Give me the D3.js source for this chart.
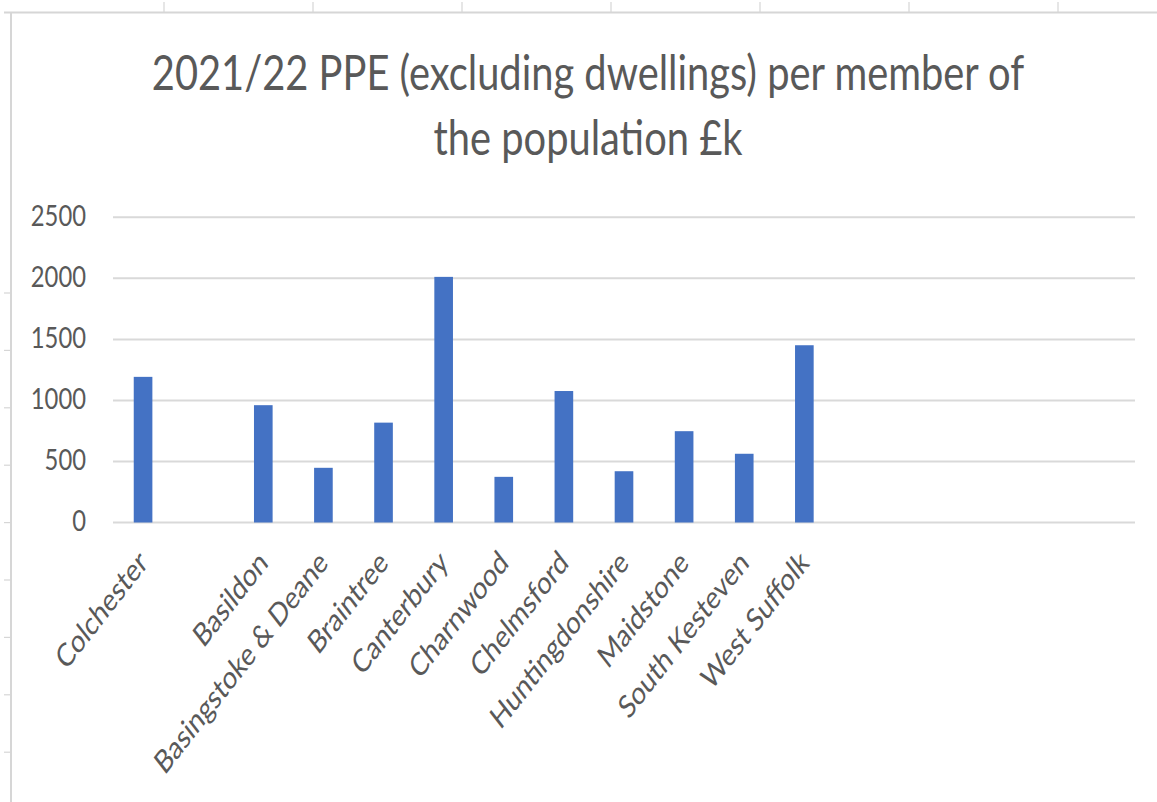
<!DOCTYPE html>
<html>
<head>
<meta charset="utf-8">
<script src="https://cdn.jsdelivr.net/npm/d3@7"></script>
<style>
  html, body { margin: 0; padding: 0; background: #fff; }
  svg { display: block; }
  text { font-family: Lato, "Open Sans", "Noto Sans", sans-serif; fill: #595959; }
</style>
</head>
<body>
<svg id="chart" width="1157" height="802"></svg>
<script>
// Councils in chart order (blank slots are empty categories in the series)
const categories = [
  "Colchester", "", "Basildon", "Basingstoke & Deane", "Braintree", "Canterbury",
  "Charnwood", "Chelmsford", "Huntingdonshire", "Maidstone", "South Kesteven",
  "West Suffolk", "", "", "", "", ""
];
// PPE (excluding dwellings) per member of the population, £k
const values = [
  1193, null, 961, 448, 818, 2012,
  374, 1077, 420, 748, 563,
  1452, null, null, null, null, null
];
const yTicks = [0, 500, 1000, 1500, 2000, 2500];
const titleLines = ["2021/22 PPE (excluding dwellings) per member of", "the population £k"];

const W = 1157, H = 802;
const svg = d3.select("#chart");

// Worksheet cell borders behind the chart
const sheet = svg.append("g").attr("stroke", "#d6d6d6").attr("stroke-width", 2);
sheet.append("line").attr("x1", 4).attr("x2", W).attr("y1", 12.5).attr("y2", 12.5);
sheet.append("line").attr("x1", 11).attr("x2", 11).attr("y1", 12).attr("y2", H);
sheet.selectAll(".ct").data(d3.range(164, W, 149)).join("line")
  .attr("stroke-width", 1.2)
  .attr("x1", d => d).attr("x2", d => d).attr("y1", 2).attr("y2", 12);
sheet.selectAll(".rt").data(d3.range(293, H - 30, 57.4)).join("line")
  .attr("stroke-width", 1.2)
  .attr("x1", 4).attr("x2", 11).attr("y1", d => d).attr("y2", d => d);

// Plot area
const plot = { left: 113, right: 1135, top: 217.3, bottom: 522.5 };

const x = d3.scaleBand()
  .domain(d3.range(categories.length))
  .range([plot.left, plot.right])
  .paddingInner(0.69)
  .paddingOuter(0.345);

const y = d3.scaleLinear()
  .domain([0, 2500])
  .range([plot.bottom, plot.top]);

// Horizontal gridlines
svg.append("g")
  .selectAll("line")
  .data(yTicks)
  .join("line")
  .attr("x1", plot.left).attr("x2", plot.right)
  .attr("y1", d => y(d)).attr("y2", d => y(d))
  .attr("stroke", "#d9d9d9")
  .attr("stroke-width", 2);

// Bars
svg.append("g")
  .selectAll("rect")
  .data(values.map((v, i) => ({ i, v })).filter(d => d.v != null))
  .join("rect")
  .attr("x", d => x(d.i))
  .attr("width", x.bandwidth())
  .attr("y", d => y(d.v))
  .attr("height", d => y(0) - y(d.v))
  .attr("fill", "#4472c4");

// Y axis labels
const yAxis = d3.axisLeft(y).tickValues(yTicks).tickFormat(d3.format("d")).tickSize(0).tickPadding(0);
const gy = svg.append("g").attr("transform", `translate(${plot.left - 27},0)`).call(yAxis);
gy.select(".domain").remove();
gy.selectAll(".tick text")
  .attr("x", null).attr("dy", null)
  .attr("font-size", 28)
  .attr("text-anchor", "end")
  .attr("dominant-baseline", "central")
  .attr("transform", "translate(0,-3) scale(0.85,1)")
  .style("fill", "#595959");

// Category labels, rotated
const xAxis = d3.axisBottom(x).tickFormat(i => categories[i]).tickSize(0).tickPadding(0);
const gx = svg.append("g").attr("transform", `translate(0,${plot.bottom})`).call(xAxis);
gx.select(".domain").remove();
gx.selectAll(".tick text")
  .attr("y", null).attr("dy", null)
  .attr("font-size", 32)
  .attr("text-anchor", "end")
  .attr("transform", "translate(6,42) scale(0.78,1) rotate(-45)")
  .style("fill", "#595959");

// Title
svg.append("g")
  .selectAll("text")
  .data(titleLines)
  .join("text")
  .attr("transform", (d, i) => `translate(588,${90 + i * 65}) scale(0.83,1)`)
  .attr("text-anchor", "middle")
  .attr("font-size", 48)
  .text(d => d);
</script>
</body>
</html>
